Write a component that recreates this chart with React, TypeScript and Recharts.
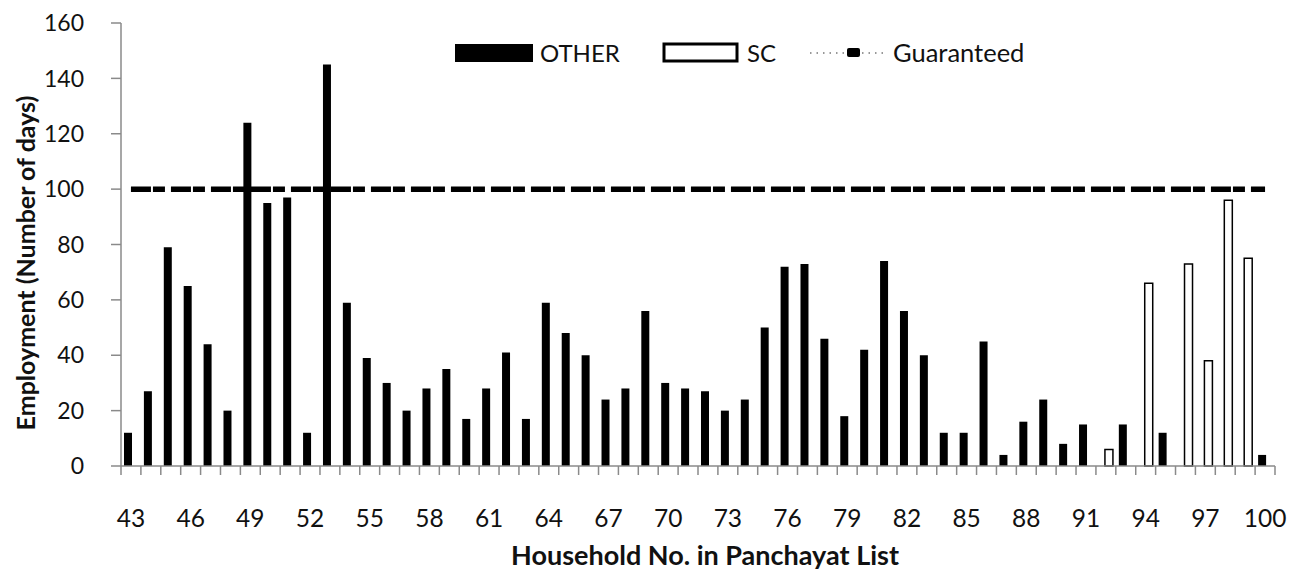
import React from 'react';
import { ComposedChart, Bar, Line, XAxis, YAxis, Legend } from 'recharts';

const households = [
  43, 44, 45, 46, 47, 48, 49, 50, 51, 52, 53, 54, 55, 56, 57, 58, 59, 60, 61, 62,
  63, 64, 65, 66, 67, 68, 69, 70, 71, 72, 73, 74, 75, 76, 77, 78, 79, 80, 81, 82,
  83, 84, 85, 86, 87, 88, 89, 90, 91, 92, 93, 94, 95, 96, 97, 98, 99, 100,
];

const otherDays: (number | null)[] = [
  12, 27, 79, 65, 44, 20, 124, 95, 97, 12, 145, 59, 39, 30, 20, 28, 35, 17, 28, 41,
  17, 59, 48, 40, 24, 28, 56, 30, 28, 27, 20, 24, 50, 72, 73, 46, 18, 42, 74, 56,
  40, 12, 12, 45, 4, 16, 24, 8, 15, null, 15, null, 12, null, null, null, null, 4,
];

const scDays: (number | null)[] = [
  null, null, null, null, null, null, null, null, null, null, null, null, null, null, null, null, null, null, null, null,
  null, null, null, null, null, null, null, null, null, null, null, null, null, null, null, null, null, null, null, null,
  null, null, null, null, null, null, null, null, null, 6, null, 66, null, 73, 38, 96, 75, null,
];

const guaranteedDays = [
  100, 100, 100, 100, 100, 100, 100, 100, 100, 100, 100, 100, 100, 100, 100, 100, 100, 100, 100, 100,
  100, 100, 100, 100, 100, 100, 100, 100, 100, 100, 100, 100, 100, 100, 100, 100, 100, 100, 100, 100,
  100, 100, 100, 100, 100, 100, 100, 100, 100, 100, 100, 100, 100, 100, 100, 100, 100, 100,
];

const yTicks = [0, 20, 40, 60, 80, 100, 120, 140, 160];

const data = households.map((h, i) => ({
  household: h,
  other: otherDays[i],
  sc: scDays[i],
  guaranteed: guaranteedDays[i],
}));

const CHART_W = 1290;
const CHART_H = 567;
const MARGIN = { top: 15, right: 23, bottom: 0, left: 0 };
const Y_AXIS_W = 113;
const X_AXIS_H = 109;
const PLOT_W = CHART_W - MARGIN.right - MARGIN.left - Y_AXIS_W;
const BAND = PLOT_W / households.length;
const AXIS_GRAY = '#8a8a8a';
const FONT = 'Lato, "Open Sans", sans-serif';

const XTick = (props: any) => {
  const { x, y, payload, index } = props;
  const showLabel = index % 3 === 0;
  const isLast = index === households.length - 1;
  return (
    <g>
      <line x1={x - BAND / 2} y1={y} x2={x - BAND / 2} y2={y + 9} stroke={AXIS_GRAY} strokeWidth={1.5} />
      {isLast && (
        <line x1={x + BAND / 2} y1={y} x2={x + BAND / 2} y2={y + 9} stroke={AXIS_GRAY} strokeWidth={1.5} />
      )}
      {showLabel && (
        <text x={x} y={y + 52} dy="0.355em" textAnchor="middle" fontSize={24.5} fontFamily={FONT} fill="#111">
          {payload.value}
        </text>
      )}
    </g>
  );
};

const LegendContent = () => (
  <svg width={CHART_W} height={80} style={{ display: 'block' }}>
    <rect x={447} y={36} width={78} height={18} fill="#000" />
    <text x={532} y={45} dy="0.355em" fontSize={24} fontFamily={FONT} fill="#111">OTHER</text>
    <rect x={656} y={36} width={73} height={17} fill="#fff" stroke="#000" strokeWidth={3} />
    <text x={739} y={45} dy="0.355em" fontSize={24} fontFamily={FONT} fill="#111">SC</text>
    <line x1={802} y1={45} x2={875} y2={45} stroke="#777" strokeWidth={1.5} strokeDasharray="1.5 5" />
    <rect x={839} y={40} width={13} height={9} rx={2} fill="#000" />
    <text x={885} y={45} dy="0.355em" fontSize={25.5} fontFamily={FONT} fill="#111">Guaranteed</text>
  </svg>
);

export default function App() {
  return (
    <div style={{ width: CHART_W, height: CHART_H, background: '#fff' }}>
      <ComposedChart width={CHART_W} height={CHART_H} data={data} margin={MARGIN} barGap={-2}>
        <XAxis
          dataKey="household"
          interval={0}
          height={X_AXIS_H}
          tickLine={false}
          tickSize={0}
          tickMargin={0}
          axisLine={{ stroke: AXIS_GRAY, strokeWidth: 1.5 }}
          tick={<XTick />}
          label={{
            content: () => (
              <text
                x={697}
                y={547}
                textAnchor="middle"
                dy="0.355em"
                fontSize={27}
                fontWeight={700}
                fontFamily={FONT}
                fill="#111"
              >
                Household No. in Panchayat List
              </text>
            ),
          }}
        />
        <YAxis
          width={Y_AXIS_W}
          domain={[0, 160]}
          ticks={yTicks}
          interval={0}
          tickSize={10}
          tickMargin={27}
          axisLine={{ stroke: AXIS_GRAY, strokeWidth: 1.5 }}
          tickLine={{ stroke: AXIS_GRAY, strokeWidth: 1.5 }}
          tick={{ fontSize: 23, fontFamily: FONT, fill: '#111' }}
          label={{
            content: () => (
              <text
                x={18}
                y={255}
                transform="rotate(-90 18 255)"
                textAnchor="middle"
                dy="0.355em"
                fontSize={25}
                fontWeight={700}
                fontFamily={FONT}
                fill="#111"
              >
                Employment (Number of days)
              </text>
            ),
          }}
        />
        <Legend
          layout="horizontal"
          verticalAlign="middle"
          align="center"
          content={<LegendContent />}
          wrapperStyle={{ position: 'absolute', left: 0, top: 0, width: CHART_W, height: 80, pointerEvents: 'none' }}
        />
        <Bar dataKey="other" name="OTHER" fill="#000" barSize={8} isAnimationActive={false} />
        <Bar dataKey="sc" name="SC" fill="#fff" stroke="#000" strokeWidth={1.5} barSize={8} isAnimationActive={false} />
        <Line
          dataKey="guaranteed"
          name="Guaranteed"
          stroke="#000"
          strokeWidth={5.5}
          strokeDasharray="20 2 12 6"
          dot={false}
          activeDot={false}
          isAnimationActive={false}
        />
      </ComposedChart>
    </div>
  );
}
